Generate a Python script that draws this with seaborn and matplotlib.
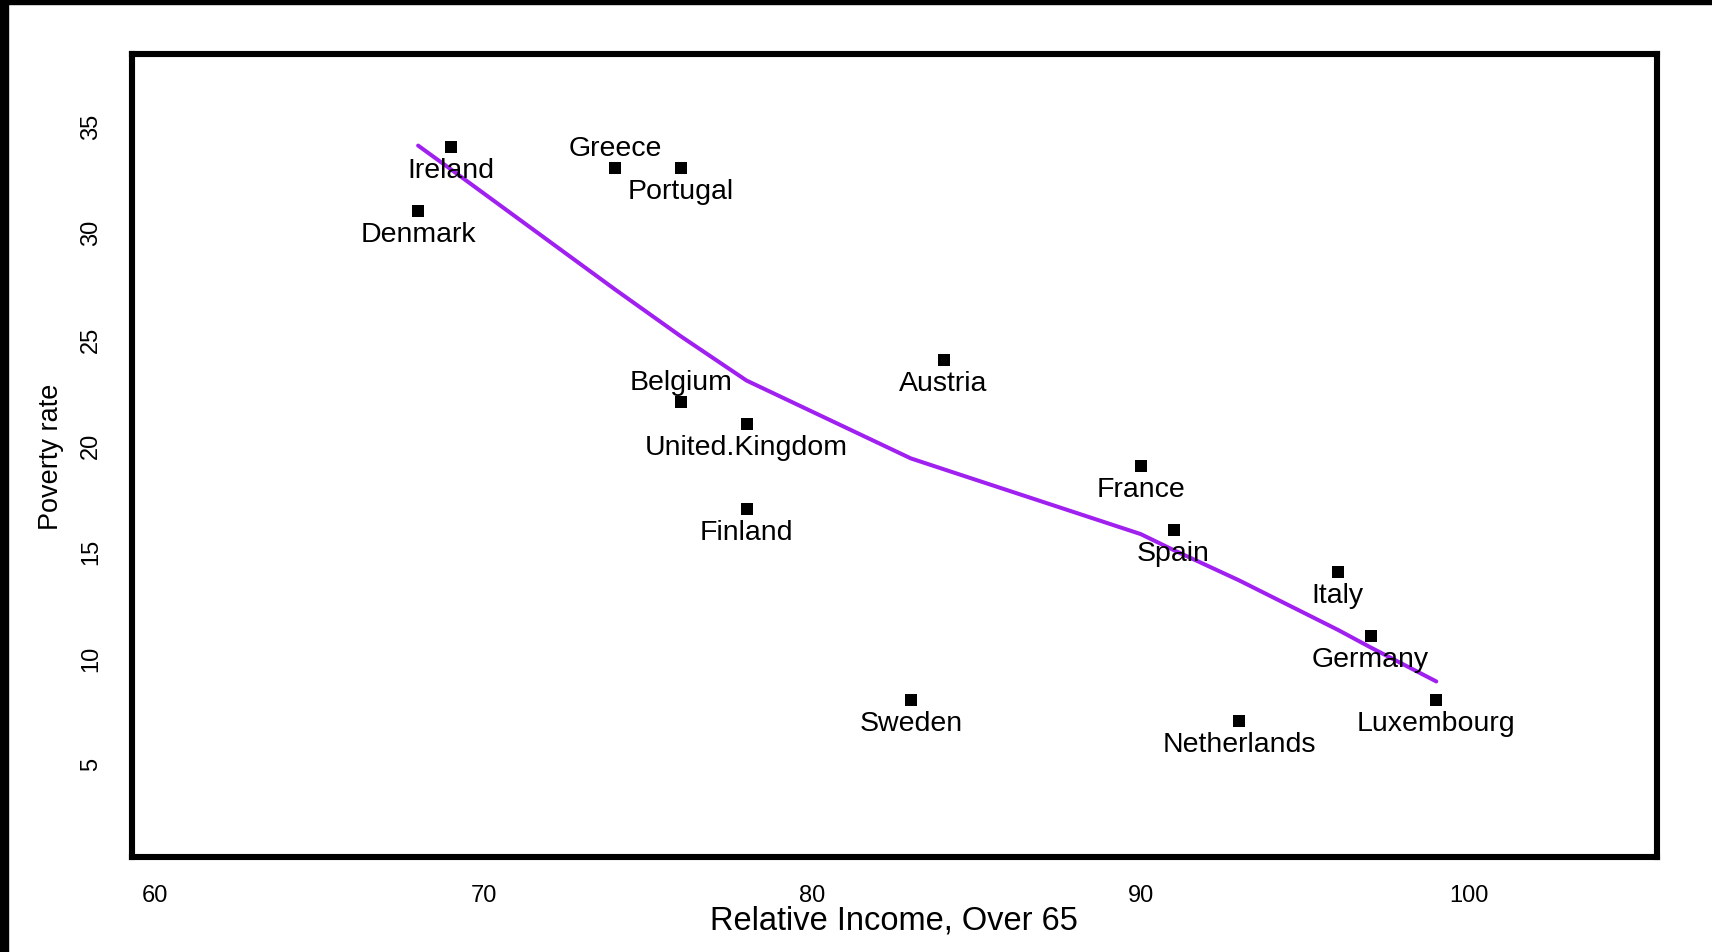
import matplotlib
matplotlib.use("Agg")
import matplotlib.pyplot as plt
from matplotlib.patches import Rectangle
import pandas as pd
import seaborn as sns

# Relative income of people over 65 vs. poverty rate, by country
countries = ["Ireland", "Greece", "Portugal", "Denmark", "Austria", "Belgium",
             "United.Kingdom", "Finland", "France", "Spain", "Italy", "Germany",
             "Luxembourg", "Sweden", "Netherlands"]
rel_income = [69, 74, 76, 68, 84, 76, 78, 78, 90, 91, 96, 97, 99, 83, 93]
poverty = [34, 33, 33, 31, 24, 22, 21, 17, 19, 16, 14, 11, 8, 8, 7]
label_above = ["Greece", "Belgium"]

# lowess smooth of poverty rate on relative income
smooth_x = [68, 69, 74, 76, 78, 83, 84, 90, 91, 93, 96, 97, 99]
smooth_y = [34.07, 32.95, 27.3, 25.1, 23.02, 19.36, 18.85, 15.8, 15.05,
            13.62, 11.3, 10.47, 8.87]

x_ticks = [60, 70, 80, 90, 100]
y_ticks = [5, 10, 15, 20, 25, 30, 35]

df = pd.DataFrame({"income": rel_income, "poverty": poverty, "country": countries})
smooth = pd.DataFrame({"income": smooth_x, "poverty": smooth_y})

sns.set_theme(style="white")
plt.rcParams["font.family"] = ["Liberation Sans", "DejaVu Sans"]
plt.rcParams["text.color"] = "black"
plt.rcParams["axes.labelcolor"] = "black"

W, H = 1712, 953
fig = plt.figure(figsize=(W / 100, H / 100), dpi=100, facecolor="white")
ax = fig.add_axes([131.7 / W, 1 - 858.3 / H, (1657 - 131.7) / W, (858.3 - 54.5) / H])

sns.lineplot(data=smooth, x="income", y="poverty", ax=ax, color="#A020F0",
             linewidth=2.9, estimator=None, sort=True, zorder=2)
sns.scatterplot(data=df, x="income", y="poverty", ax=ax, marker="s", s=72,
                color="black", linewidth=0, zorder=3)

for xi, yi, name in zip(rel_income, poverty, countries):
    dy = 9.7 if name in label_above else -21.6
    ax.annotate(name, (xi, yi), xytext=(0, dy), textcoords="offset points",
                ha="center", va="baseline", fontsize=20.5, color="black", zorder=4)

ax.set_xlim(59.28, 105.72)
ax.set_ylim(0.6, 38.4)
ax.set_xticks(x_ticks)
ax.set_yticks(y_ticks)
ax.set_xticklabels([str(v) for v in x_ticks])
ax.set_yticklabels([str(v) for v in y_ticks], rotation=90, va="center")
ax.tick_params(axis="both", direction="out", width=1.0,
               color="#333333", labelsize=17, labelcolor="black")
ax.tick_params(axis="x", length=9, pad=10)
ax.tick_params(axis="y", length=11.3, pad=10)

for side in ["left", "right", "top", "bottom"]:
    ax.spines[side].set_visible(True)
    ax.spines[side].set_linewidth(4.4)
    ax.spines[side].set_color("black")

ax.set_xlabel("Relative Income, Over 65", fontsize=23.5, va="baseline", color="black")
ax.xaxis.set_label_coords(0.5, (858.3 - 930) / 803.8)
ax.set_ylabel("Poverty rate", fontsize=19.5, rotation=90, va="baseline",
              ha="center", rotation_mode="anchor", color="black")
ax.yaxis.set_label_coords((58 - 131.7) / 1525.3, (858.3 - 457) / 803.8)

# dark bands along the top and left edges
fig.add_artist(Rectangle((0, 1 - 5 / H), 1, 5 / H, transform=fig.transFigure,
                         color="black", zorder=10))
fig.add_artist(Rectangle((0, 0), 8 / W, 1, transform=fig.transFigure,
                         color="black", zorder=10))

fig.savefig("out.png", dpi=100, facecolor="white")
